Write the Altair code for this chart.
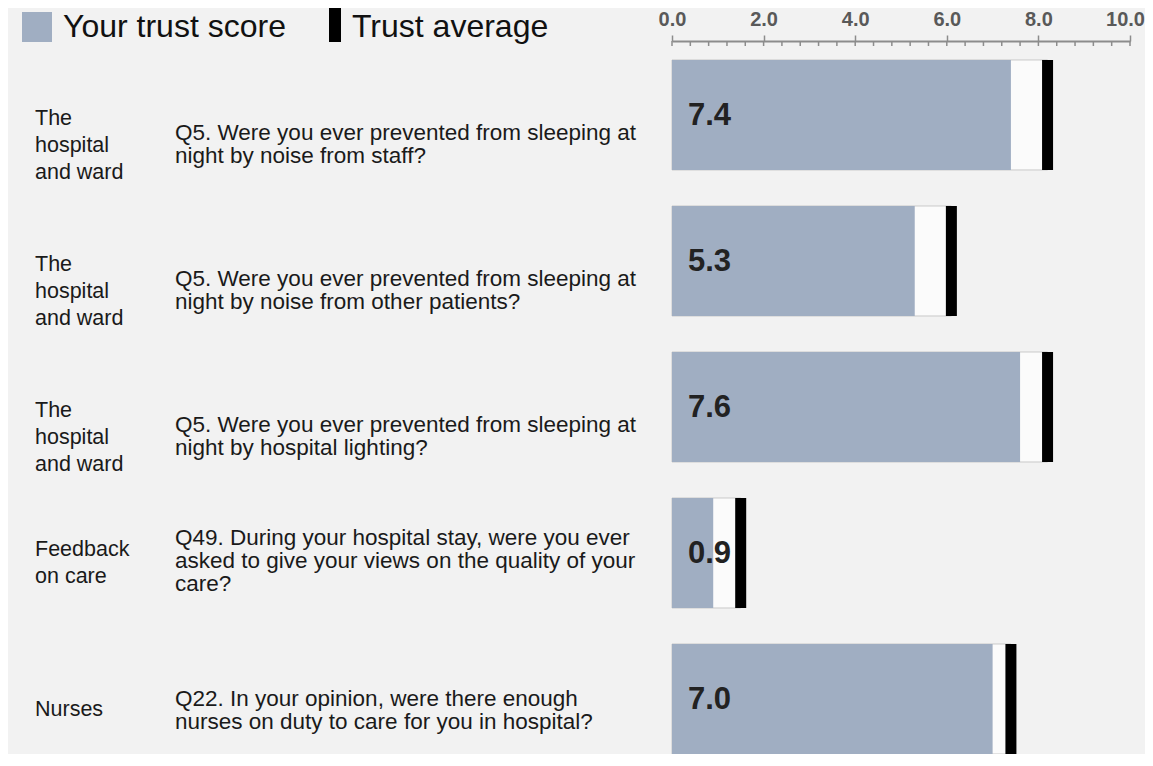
import altair as alt
import pandas as pd

# ---- data ----
categories = [
    "The\nhospital\nand ward",
    "The\nhospital\nand ward",
    "The\nhospital\nand ward",
    "Feedback\non care",
    "Nurses",
]
questions = [
    "Q5. Were you ever prevented from sleeping at\nnight by noise from staff?",
    "Q5. Were you ever prevented from sleeping at\nnight by noise from other patients?",
    "Q5. Were you ever prevented from sleeping at\nnight by hospital lighting?",
    "Q49. During your hospital stay, were you ever\nasked to give your views on the quality of your\ncare?",
    "Q22. In your opinion, were there enough\nnurses on duty to care for you in hospital?",
]
scores = [7.4, 5.3, 7.6, 0.9, 7.0]
averages = [8.2, 6.1, 8.2, 1.5, 7.4]

major_ticks = [0, 2, 4, 6, 8, 10]
minor_ticks = [0, 0.4, 0.8, 1.2, 1.6, 2, 2.4, 2.8, 3.2, 3.6, 4, 4.4, 4.8, 5.2, 5.6, 6,
               6.4, 6.8, 7.2, 7.6, 8, 8.4, 8.8, 9.2, 9.6, 10]
legend_labels = ["Your trust score", "Trust average"]

df = pd.DataFrame({
    "row": list(range(len(scores))),
    "category": categories,
    "question": questions,
    "score": scores,
    "avg": averages,
})
ticks_df = pd.DataFrame({"t": minor_ticks})

FONT = "Liberation Sans"
BAR_COLOR = "#a0aec2"
AXIS_COLOR = "#8c8c8c"

# layout
H = 713
P_IN = 0.2466
P_OUT = 0.065
step = H / (len(scores) - P_IN + 2 * P_OUT)
bw = step * (1 - P_IN)

CAT_LH = 27
Q_LH = 23

x_scale = alt.Scale(domain=[0, 10], nice=False, zero=True)
y_scale = alt.Scale(paddingInner=P_IN, paddingOuter=P_OUT, align=1)

base = alt.Chart(df)
y_enc = alt.Y("row:O", scale=y_scale, axis=None)

white_bar = base.mark_bar(color="#fbfbfb", stroke="#c9c9c9", strokeWidth=1).encode(
    x=alt.X("avg:Q", scale=x_scale,
            axis=alt.Axis(orient="top", values=major_ticks, format=".1f",
                          grid=False, title=None, labelFlush=False,
                          domainColor=AXIS_COLOR, domainWidth=2,
                          tickColor=AXIS_COLOR, tickSize=6, tickWidth=1.5,
                          labelFontSize=20, labelFont=FONT, labelFontWeight="bold",
                          labelColor="#595959", labelPadding=6,
                          labelOffset={"condition": {"test": "datum.value == 10", "value": -5},
                                       "value": 0})),
    y=y_enc,
)

score_bar = base.mark_bar(color=BAR_COLOR).encode(
    x=alt.X("score:Q", scale=x_scale),
    y=y_enc,
)

avg_tick = base.mark_tick(color="black", thickness=11, size=bw, opacity=1).encode(
    x=alt.X("avg:Q", scale=x_scale),
    y=y_enc,
)

score_text = base.mark_text(align="left", baseline="middle", font=FONT,
                            fontSize=31, fontWeight="bold", color="#222222",
                            dy=1).encode(
    x=alt.value(16),
    y=y_enc,
    text=alt.Text("score:Q", format=".1f"),
)

cat_dy = ("(length(split(datum.category, '\\n')) >= 3 ? 31 : 11)"
          f" - (length(split(datum.category, '\\n')) - 1) * {CAT_LH / 2}")
q_dy = ("(length(split(datum.category, '\\n')) >= 3 ? 29.5 : "
        "(length(split(datum.question, '\\n')) >= 3 ? 8.5 : 11))"
        f" - (length(split(datum.question, '\\n')) - 1) * {Q_LH / 2}")

cat_text = base.mark_text(align="left", baseline="middle", font=FONT,
                          fontSize=21.5, color="#1a1a1a", lineBreak="\n",
                          lineHeight=CAT_LH, dy=alt.expr(cat_dy)).encode(
    x=alt.value(-637),
    y=y_enc,
    text="category:N",
)

q_text = base.mark_text(align="left", baseline="middle", font=FONT,
                        fontSize=22.5, color="#1a1a1a", lineBreak="\n",
                        lineHeight=Q_LH, dy=alt.expr(q_dy)).encode(
    x=alt.value(-497),
    y=y_enc,
    text="question:N",
)

minor = alt.Chart(ticks_df).mark_rule(color=AXIS_COLOR, strokeWidth=1.5).encode(
    x=alt.X("t:Q", scale=x_scale),
    y=alt.value(0),
    y2=alt.value(5),
)

# manual legend
leg_df = pd.DataFrame({"label": legend_labels})
leg_sq = alt.Chart(leg_df.iloc[[0]]).mark_rect(color=BAR_COLOR).encode(
    x=alt.value(-650), x2=alt.value(-620), y=alt.value(-29), y2=alt.value(1))
leg_sq_t = alt.Chart(leg_df.iloc[[0]]).mark_text(
    align="left", baseline="middle", font=FONT, fontSize=32, color="#111111").encode(
    x=alt.value(-609), y=alt.value(-14), text="label:N")
leg_bar = alt.Chart(leg_df.iloc[[1]]).mark_rect(color="black").encode(
    x=alt.value(-343), x2=alt.value(-331), y=alt.value(-33), y2=alt.value(1))
leg_bar_t = alt.Chart(leg_df.iloc[[1]]).mark_text(
    align="left", baseline="middle", font=FONT, fontSize=32, color="#111111").encode(
    x=alt.value(-320), y=alt.value(-14), text="label:N")

chart = alt.layer(
    white_bar, score_bar, avg_tick, score_text, cat_text, q_text, minor,
    leg_sq, leg_sq_t, leg_bar, leg_bar_t,
).properties(
    width=458,
    height=H,
    autosize=alt.AutoSizeParams(type="none"),
    padding={"left": 664, "top": 33, "right": 15, "bottom": 0},
    background="#f2f2f2",
).configure_view(stroke=None)

chart.save("out.html", embed_options={"renderer": "svg", "actions": False})
